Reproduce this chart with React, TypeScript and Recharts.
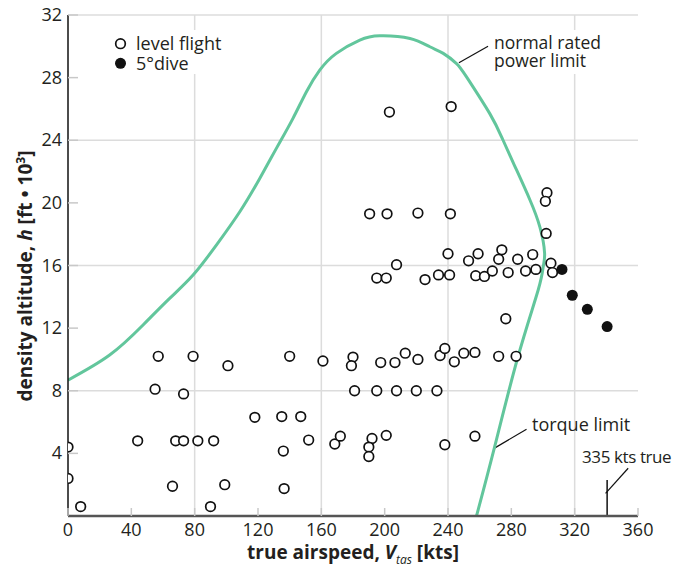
import { ComposedChart, Line, ReferenceLine, Scatter, XAxis, YAxis } from 'recharts'

const speedTicks = [0, 40, 80, 120, 160, 200, 240, 280, 320, 360]
const altitudeTicks = [4, 8, 12, 16, 20, 24, 28, 32]
const gridSpeeds = [80, 160, 240, 320]
const gridAltitudes = [8, 16, 24, 32]

// level flight test points (kts, ft x 1000)
const levelSpeed = [
  0, 0, 8, 44, 57, 55, 73, 68, 73, 82, 92, 66, 79, 101, 99, 90, 118, 135, 147, 152, 136, 168.5, 172, 136.5,
  140, 161, 180, 179, 197.5, 206.5, 213, 221, 235, 238, 244, 250, 257, 272, 283, 181, 195, 207.5, 220, 233,
  192, 190, 190, 201, 238, 257, 276.5, 190.5, 201.5, 221, 241.5, 302.5, 301.5, 302, 240, 259, 274, 272, 293.5,
  253, 284, 305, 207.5, 195, 201, 225.5, 234, 241, 257.5, 263, 268, 278, 289, 295.5, 306, 203, 242,
]
const levelAltitude = [
  4.4, 2.4, 0.6, 4.8, 10.2, 8.1, 7.8, 4.8, 4.8, 4.8, 4.8, 1.9, 10.2, 9.6, 2.0, 0.6, 6.3, 6.35, 6.35, 4.85, 4.15, 4.6, 5.1, 1.75,
  10.2, 9.9, 10.15, 9.6, 9.8, 9.8, 10.4, 10.0, 10.25, 10.7, 9.85, 10.4, 10.45, 10.2, 10.2, 8, 8, 8, 8, 8,
  4.95, 4.4, 3.8, 5.15, 4.55, 5.1, 12.6, 19.3, 19.3, 19.35, 19.3, 20.65, 20.1, 18.05, 16.75, 16.75, 17.0, 16.4, 16.7,
  16.3, 16.4, 16.15, 16.05, 15.2, 15.2, 15.1, 15.4, 15.4, 15.35, 15.3, 15.65, 15.55, 15.65, 15.75, 15.55, 25.8, 26.15,
]

// 5 deg dive points
const diveSpeed = [312, 318.5, 328, 340.5]
const diveAltitude = [15.75, 14.1, 13.2, 12.1]

// normal rated power limit, running into the torque limit
const limitSpeed = [
  0, 26.3, 47.4, 64.2, 79, 93.7, 108.5, 121.1, 131.6, 142.1, 150.6, 159, 169.5, 184.3, 196.9, 216, 228.5,
  237, 245.4, 251.7, 266.4, 274.8, 283.3, 291.7, 298, 301, 300.1, 297, 284.2, 269.2, 258,
]
const limitAltitude = [
  8.68, 10.28, 12.2, 13.9, 15.39, 17.3, 19.43, 21.56, 23.48, 25.4, 27.1, 28.48, 29.55, 30.4, 30.67, 30.5, 29.97,
  29.55, 28.9, 28.05, 25.7, 24, 22.1, 20.2, 18.47, 16.8, 15.9, 14.45, 10.17, 4.32, 0,
]

const levelData = levelSpeed.map((x, i) => ({ x, y: levelAltitude[i] }))
const diveData = diveSpeed.map((x, i) => ({ x, y: diveAltitude[i] }))
const limitData = limitSpeed.map((x, i) => ({ x, y: limitAltitude[i] }))

const font = '"Open Sans", sans-serif'
const ink = '#231f20'

function XTick({ x, y, payload }: any) {
  return (
    <g>
      <line x1={x} y1={y} x2={x} y2={y - 8} stroke="#c8c8c8" strokeWidth={1.5} />
      <text x={x} y={y + 20} textAnchor="middle" fontSize={18} fontFamily={font} fill={ink}>{payload.value}</text>
    </g>
  )
}

function YTick({ x, y, payload }: any) {
  return (
    <g>
      <line x1={x} y1={y} x2={x + 10} y2={y} stroke="#c8c8c8" strokeWidth={1.5} />
      <text x={x - 6} y={y + 6} textAnchor="end" fontSize={18} fontFamily={font} fill={ink}>{payload.value}</text>
    </g>
  )
}

function OpenDot({ cx, cy }: any) {
  return <circle cx={cx} cy={cy} r={4.8} fill="#fff" stroke="#111" strokeWidth={1.7} />
}

function FilledDot({ cx, cy }: any) {
  return <circle cx={cx} cy={cy} r={5.5} fill="#111" />
}

export default function App() {
  return (
    <div style={{ position: 'absolute', left: 0, top: 0, width: 676, height: 567, background: '#fff' }}>
      <ComposedChart width={676} height={567} margin={{ top: 15, right: 38, bottom: 21, left: 8 }}>
        <XAxis
          type="number"
          dataKey="x"
          domain={[0, 360]}
          ticks={speedTicks}
          interval={0}
          allowDataOverflow
          height={30}
          tickSize={0}
          tickMargin={0}
          tickLine={false}
          axisLine={{ stroke: '#555', strokeWidth: 2.5 }}
          tick={<XTick />}
        />
        <YAxis
          type="number"
          dataKey="y"
          domain={[0, 32]}
          ticks={altitudeTicks}
          interval={0}
          allowDataOverflow
          width={60}
          tickSize={0}
          tickMargin={0}
          tickLine={false}
          axisLine={{ stroke: '#111', strokeWidth: 1.5 }}
          tick={<YTick />}
        />
        {gridSpeeds.map((v) => (
          <ReferenceLine key={'gx' + v} x={v} stroke="#dcdcdc" strokeWidth={1.5} />
        ))}
        {gridAltitudes.map((v) => (
          <ReferenceLine key={'gy' + v} y={v} stroke="#dcdcdc" strokeWidth={1.5} />
        ))}
        <ReferenceLine segment={[{ x: 340.5, y: 0 }, { x: 340.5, y: 2.3 }]} stroke="#111" strokeWidth={1.5} ifOverflow="visible" />
        <ReferenceLine segment={[{ x: 339.5, y: 1.45 }, { x: 353.8, y: 3.05 }]} stroke="#111" strokeWidth={1.2} ifOverflow="visible" />
        <ReferenceLine segment={[{ x: 269.1, y: 4.32 }, { x: 289.6, y: 5.54 }]} stroke="#111" strokeWidth={1.2} ifOverflow="visible" />
        <ReferenceLine segment={[{ x: 246.9, y: 28.95 }, { x: 265.3, y: 30.0 }]} stroke="#111" strokeWidth={1.2} ifOverflow="visible" />
        <Line
          data={limitData}
          dataKey="y"
          type="natural"
          stroke="#62c69c"
          strokeWidth={3}
          dot={false}
          activeDot={false}
          isAnimationActive={false}
        />
        <Scatter data={levelData} dataKey="y" shape={<OpenDot />} isAnimationActive={false} />
        <Scatter data={diveData} dataKey="y" shape={<FilledDot />} isAnimationActive={false} />
      </ComposedChart>
      <svg width={676} height={567} style={{ position: 'absolute', left: 0, top: 0, pointerEvents: 'none' }} fontFamily={font} fill={ink}>
        <rect x={110} y={30} width={116} height={44} fill="#fff" />
        <circle cx={120.5} cy={43.7} r={4.8} fill="#fff" stroke="#111" strokeWidth={1.7} />
        <circle cx={120.5} cy={63.3} r={5.5} fill="#111" />
        <text x={136} y={49.5} fontSize={18}>level flight</text>
        <text x={136} y={69.5} fontSize={18}>5°dive</text>

        <rect x={490} y={30} width={126} height={44} fill="#fff" />
        <text x={494} y={49} fontSize={17.5}>normal rated</text>
        <text x={494} y={67} fontSize={17.5}>power limit</text>

        <text x={532} y={431} fontSize={18}>torque limit</text>
        <text x={582} y={463} fontSize={17} letterSpacing={-0.4}>335 kts true</text>

        <text x={353} y={559} textAnchor="middle" fontSize={19} fontWeight="bold">
          true airspeed, <tspan fontStyle="italic">V</tspan>
          <tspan fontStyle="italic" fontWeight="normal" fontSize={12} dy={5}>tas</tspan>
          <tspan dy={-5}> [kts]</tspan>
        </text>
        <text transform="rotate(-90)" x={-276} y={32} textAnchor="middle" fontSize={19} fontWeight="bold">
          density altitude, <tspan fontStyle="italic">h</tspan> [ft • 10<tspan fontSize={12} dy={-7}>3</tspan>
          <tspan dy={7}>]</tspan>
        </text>
      </svg>
    </div>
  )
}
